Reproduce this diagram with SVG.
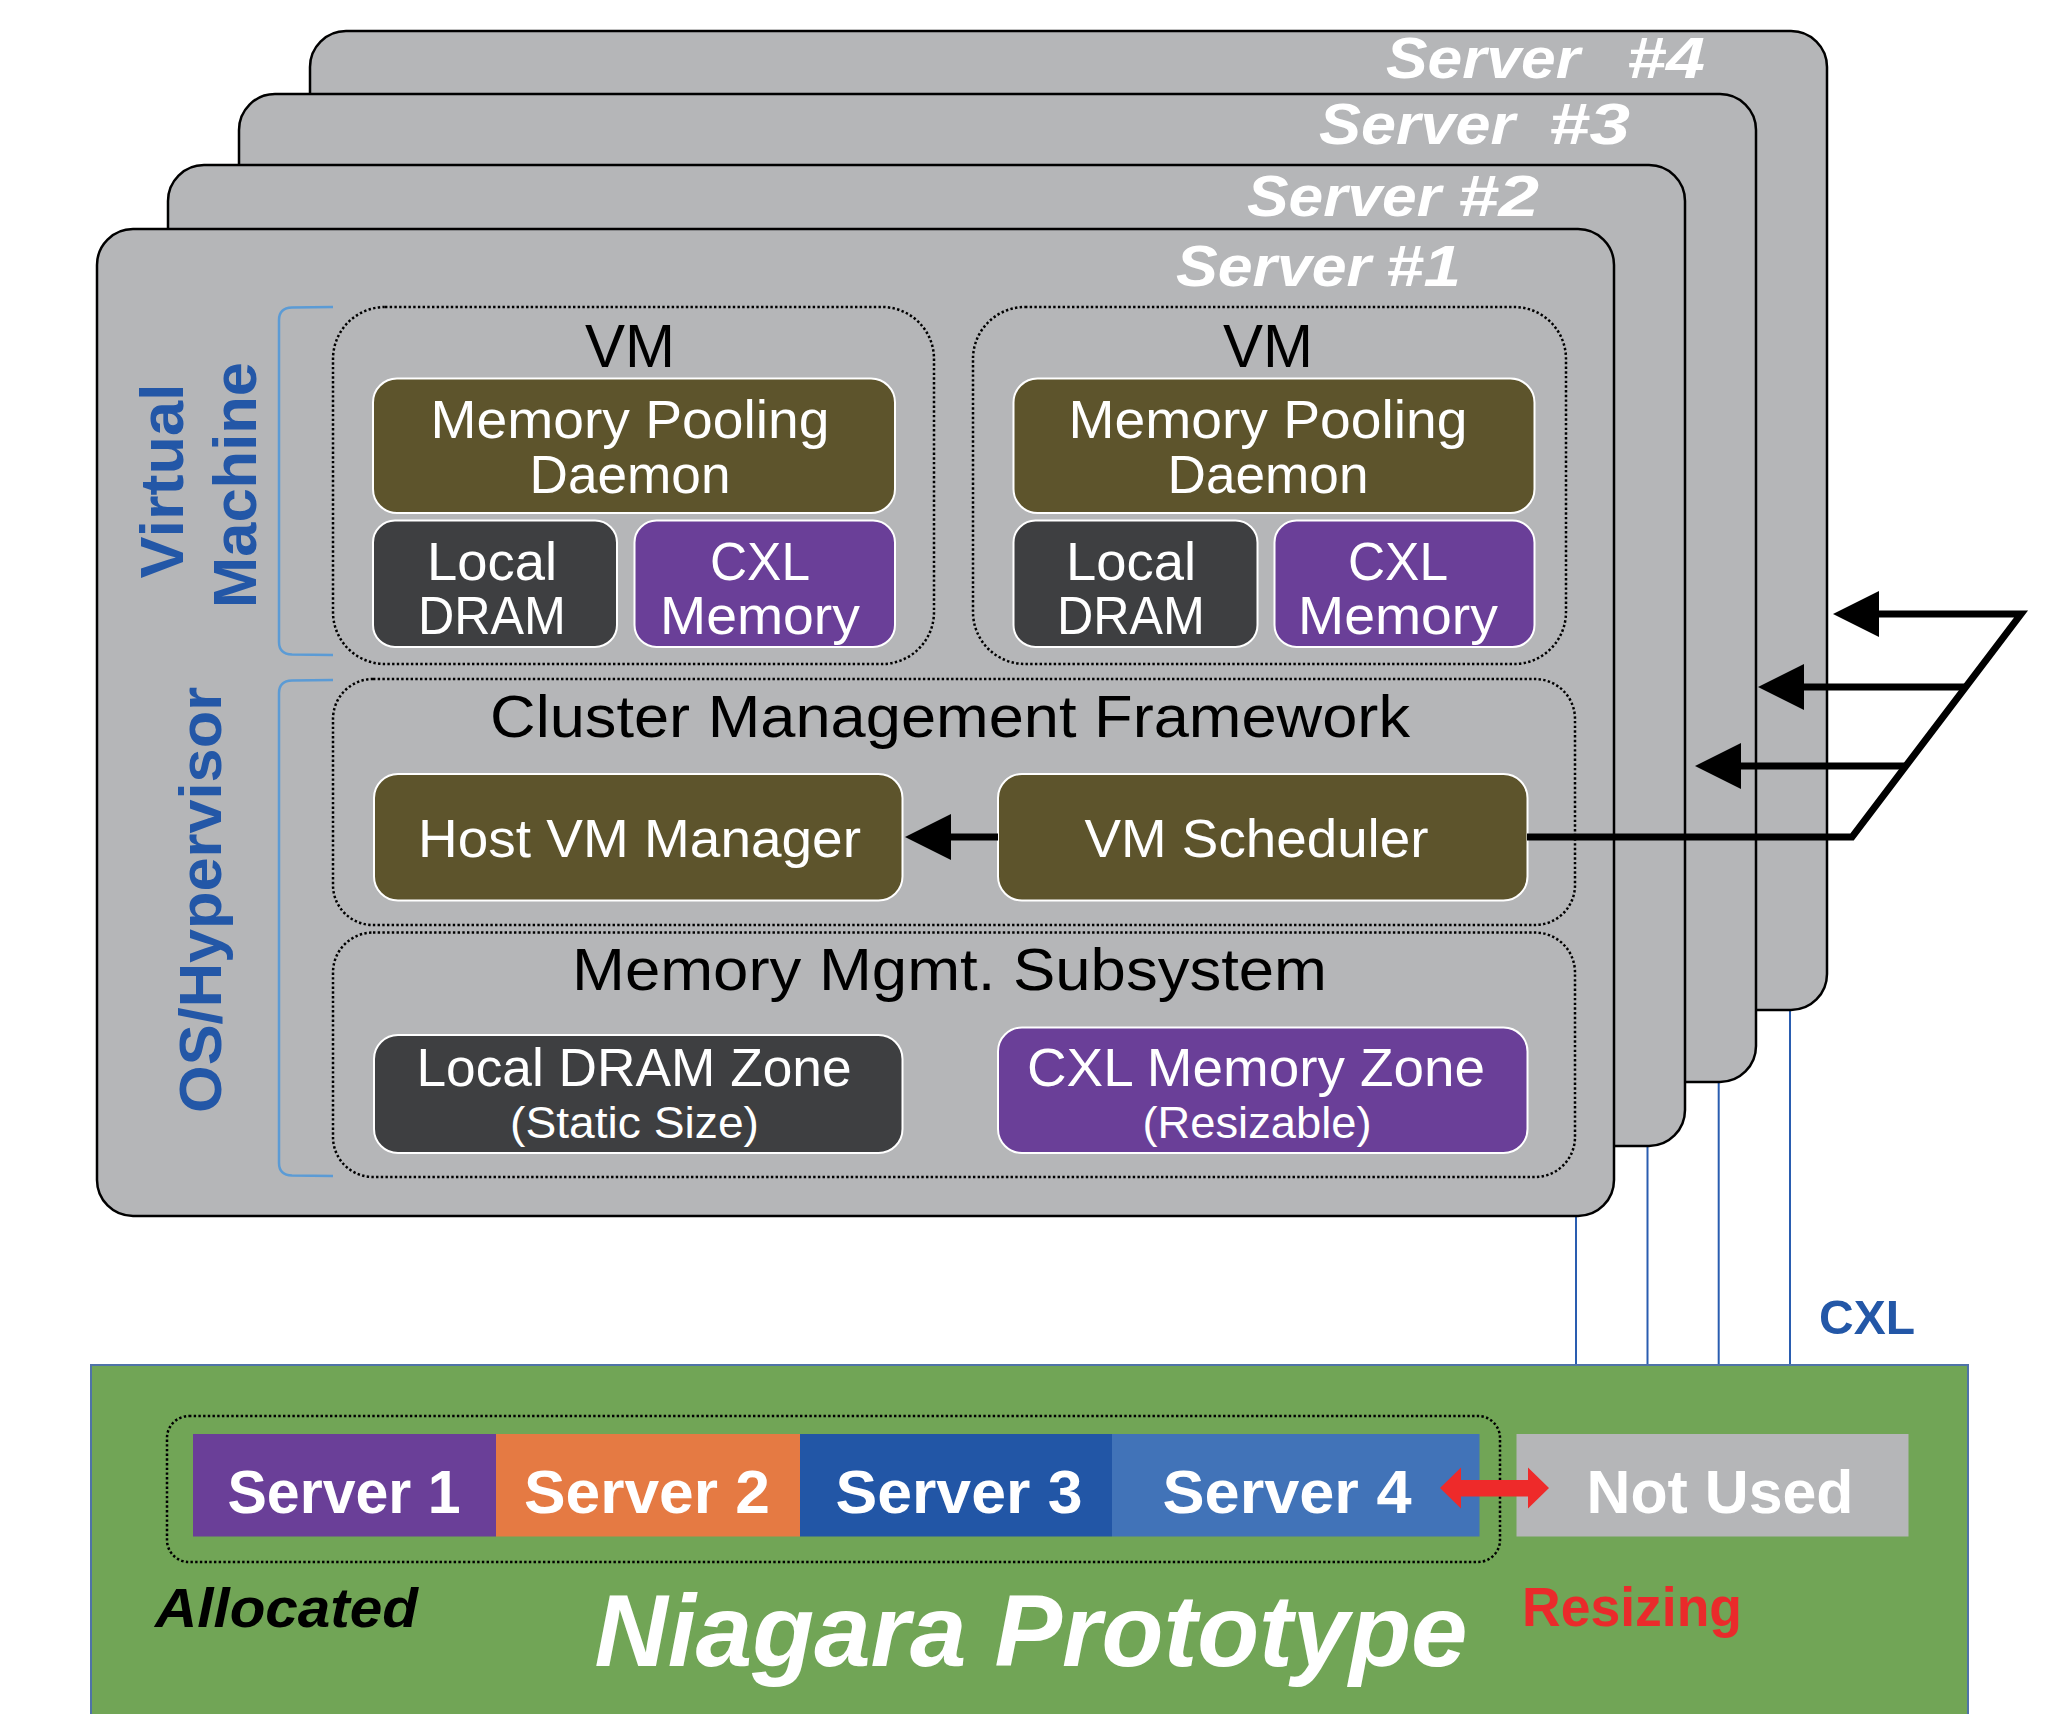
<svg xmlns="http://www.w3.org/2000/svg" width="2063" height="1714" viewBox="0 0 2063 1714">
  <defs>
    <style>
      .frame { fill: #b5b6b8; stroke: #000; stroke-width: 2.5; }
      .dotted { fill: none; stroke: #000; stroke-width: 2.5; stroke-dasharray: 2.4 2.3; }
      .olive { fill: #5d542c; stroke: #fff; stroke-width: 2; }
      .dark { fill: #3e3f41; stroke: #fff; stroke-width: 2; }
      .purple { fill: #6a3f98; stroke: #fff; stroke-width: 2; }
      .lbl { font-family: "Liberation Sans", Arial, sans-serif; fill: #fff; text-anchor: middle; }
      .two { font-size: 53px; }
      .hdr { font-family: "Liberation Sans", Arial, sans-serif; fill: #000; text-anchor: middle; }
      .srv { font-family: "Liberation Sans", Arial, sans-serif; font-weight: bold; font-style: italic; fill: #fff; font-size: 58px; }
      .side { font-family: "Liberation Sans", Arial, sans-serif; font-weight: bold; fill: #2357a7; text-anchor: middle; }
      .brk { fill: none; stroke: #5b9bd5; stroke-width: 2.5; }
      .conn { fill: none; stroke: #000; stroke-width: 7; stroke-linejoin: miter; }
      .cxl { stroke: #2a5db0; stroke-width: 2; }
      .bar { font-family: "Liberation Sans", Arial, sans-serif; font-weight: bold; fill: #fff; text-anchor: middle; font-size: 61px; }
    </style>
    <marker id="head" markerUnits="userSpaceOnUse" viewBox="0 -24 46 48" markerWidth="46" markerHeight="48" refX="0" refY="0" orient="auto">
      <path d="M0,-23 L46,0 L0,23 z" fill="#000"/>
    </marker>
  </defs>

  <rect width="2063" height="1714" fill="#fff"/>

  <!-- CXL links from each server down to the memory pool -->
  <g id="cxl-links">
    <line class="cxl" x1="1576" y1="1215" x2="1576" y2="1366"/>
    <line class="cxl" x1="1647.5" y1="1145" x2="1647.5" y2="1366"/>
    <line class="cxl" x1="1718.7" y1="1081" x2="1718.7" y2="1366"/>
    <line class="cxl" x1="1790" y1="1009" x2="1790" y2="1366"/>
    <text x="1867" y="1334" class="side" font-size="49" textLength="96" lengthAdjust="spacingAndGlyphs">CXL</text>
  </g>

  <!-- stacked server frames -->
  <g id="server-4">
    <rect class="frame" x="310" y="31" width="1517" height="979" rx="36"/>
    <text class="srv" y="78"><tspan x="1386" textLength="194" lengthAdjust="spacingAndGlyphs">Server</tspan><tspan x="1627" textLength="78" lengthAdjust="spacingAndGlyphs">#4</tspan></text>
  </g>
  <g id="server-3">
    <rect class="frame" x="239" y="94" width="1517" height="988" rx="36"/>
    <text class="srv" y="144"><tspan x="1319" textLength="196" lengthAdjust="spacingAndGlyphs">Server</tspan><tspan x="1549" textLength="81" lengthAdjust="spacingAndGlyphs">#3</tspan></text>
  </g>
  <g id="server-2">
    <rect class="frame" x="168" y="165" width="1517" height="981" rx="36"/>
    <text class="srv" y="216"><tspan x="1247" textLength="194" lengthAdjust="spacingAndGlyphs">Server</tspan><tspan x="1458" textLength="81" lengthAdjust="spacingAndGlyphs">#2</tspan></text>
  </g>
  <g id="server-1">
    <rect class="frame" x="97" y="229" width="1517" height="987" rx="36"/>
    <text class="srv" y="286"><tspan x="1176" textLength="195" lengthAdjust="spacingAndGlyphs">Server</tspan><tspan x="1386" textLength="75" lengthAdjust="spacingAndGlyphs">#1</tspan></text>
  </g>

  <!-- layer labels with brackets -->
  <g id="layer-vm">
    <path class="brk" d="M333,307 L292,307.5 Q279,308 279,320 L279,642 Q279,654 292,654.5 L333,655"/>
    <text class="side" font-size="62" transform="translate(183,481) rotate(-90)" textLength="195" lengthAdjust="spacingAndGlyphs">Virtual</text>
    <text class="side" font-size="62" transform="translate(256,485) rotate(-90)" textLength="246" lengthAdjust="spacingAndGlyphs">Machine</text>
  </g>
  <g id="layer-os">
    <path class="brk" d="M333,680 L292,680.5 Q279,681 279,693 L279,1163 Q279,1175 292,1175.5 L333,1176"/>
    <text class="side" font-size="59" transform="translate(221,900) rotate(-90)" textLength="426" lengthAdjust="spacingAndGlyphs">OS/Hypervisor</text>
  </g>

  <!-- virtual machine A -->
  <g id="vm-a">
    <rect class="dotted" x="333" y="307" width="601" height="357" rx="52"/>
    <text class="hdr" x="630" y="367" font-size="62" textLength="90" lengthAdjust="spacingAndGlyphs">VM</text>
  </g>
  <g id="vm-a-daemon">
    <rect class="olive" x="373" y="378.5" width="522" height="134.5" rx="24"/>
    <text class="lbl two" x="630" y="437.5" textLength="399" lengthAdjust="spacingAndGlyphs">Memory Pooling</text>
    <text class="lbl two" x="630" y="492.5" textLength="201" lengthAdjust="spacingAndGlyphs">Daemon</text>
  </g>
  <g id="vm-a-dram">
    <rect class="dark" x="373" y="520.5" width="244" height="126.5" rx="22"/>
    <text class="lbl two" x="492" y="579.5" textLength="130" lengthAdjust="spacingAndGlyphs">Local</text>
    <text class="lbl two" x="492" y="634" textLength="148" lengthAdjust="spacingAndGlyphs">DRAM</text>
  </g>
  <g id="vm-a-cxl">
    <rect class="purple" x="634.5" y="520.5" width="260.5" height="126.5" rx="22"/>
    <text class="lbl two" x="760" y="579.5" textLength="100" lengthAdjust="spacingAndGlyphs">CXL</text>
    <text class="lbl two" x="760" y="634" textLength="200" lengthAdjust="spacingAndGlyphs">Memory</text>
  </g>

  <!-- virtual machine B -->
  <g id="vm-b">
    <rect class="dotted" x="973" y="307" width="593" height="357" rx="52"/>
    <text class="hdr" x="1268" y="367" font-size="62" textLength="90" lengthAdjust="spacingAndGlyphs">VM</text>
  </g>
  <g id="vm-b-daemon">
    <rect class="olive" x="1013.5" y="378.5" width="521" height="134.5" rx="24"/>
    <text class="lbl two" x="1268" y="437.5" textLength="399" lengthAdjust="spacingAndGlyphs">Memory Pooling</text>
    <text class="lbl two" x="1268" y="492.5" textLength="201" lengthAdjust="spacingAndGlyphs">Daemon</text>
  </g>
  <g id="vm-b-dram">
    <rect class="dark" x="1013.5" y="520.5" width="244" height="126.5" rx="22"/>
    <text class="lbl two" x="1131" y="579.5" textLength="130" lengthAdjust="spacingAndGlyphs">Local</text>
    <text class="lbl two" x="1131" y="634" textLength="148" lengthAdjust="spacingAndGlyphs">DRAM</text>
  </g>
  <g id="vm-b-cxl">
    <rect class="purple" x="1274.5" y="520.5" width="260" height="126.5" rx="22"/>
    <text class="lbl two" x="1398" y="579.5" textLength="100" lengthAdjust="spacingAndGlyphs">CXL</text>
    <text class="lbl two" x="1398" y="634" textLength="200" lengthAdjust="spacingAndGlyphs">Memory</text>
  </g>

  <!-- cluster management framework -->
  <g id="cluster-mgmt">
    <rect class="dotted" x="333" y="679" width="1242" height="246" rx="40"/>
    <text class="hdr" x="950" y="737" font-size="60" textLength="920" lengthAdjust="spacingAndGlyphs">Cluster Management Framework</text>
  </g>
  <g id="host-vm-manager">
    <rect class="olive" x="374" y="774" width="528.5" height="126.5" rx="24"/>
    <text class="lbl" x="639.5" y="856.5" font-size="54" textLength="443" lengthAdjust="spacingAndGlyphs">Host VM Manager</text>
  </g>
  <g id="vm-scheduler">
    <rect class="olive" x="998" y="774" width="529.5" height="126.5" rx="24"/>
    <text class="lbl" x="1256.5" y="856.5" font-size="54" textLength="344" lengthAdjust="spacingAndGlyphs">VM Scheduler</text>
  </g>

  <!-- memory management subsystem -->
  <g id="memory-mgmt">
    <rect class="dotted" x="333" y="932.5" width="1242" height="244.5" rx="40"/>
    <text class="hdr" x="949.5" y="990" font-size="59" textLength="755" lengthAdjust="spacingAndGlyphs">Memory Mgmt. Subsystem</text>
  </g>
  <g id="local-dram-zone">
    <rect class="dark" x="374" y="1035" width="528.5" height="118" rx="24"/>
    <text class="lbl" x="634" y="1085.5" font-size="54" textLength="435" lengthAdjust="spacingAndGlyphs">Local DRAM Zone</text>
    <text class="lbl" x="634.5" y="1138" font-size="45" textLength="249" lengthAdjust="spacingAndGlyphs">(Static Size)</text>
  </g>
  <g id="cxl-memory-zone">
    <rect class="purple" x="998" y="1027.5" width="529.5" height="125.5" rx="24"/>
    <text class="lbl" x="1256" y="1085.5" font-size="54" textLength="458" lengthAdjust="spacingAndGlyphs">CXL Memory Zone</text>
    <text class="lbl" x="1257" y="1138" font-size="45" textLength="229" lengthAdjust="spacingAndGlyphs">(Resizable)</text>
  </g>

  <!-- Niagara memory pool -->
  <g id="niagara">
    <rect x="91" y="1365" width="1877" height="400" fill="#71a556" stroke="#4f73a8" stroke-width="2"/>
    <rect class="dotted" x="167" y="1416" width="1333" height="146" rx="22"/>
    <text x="1031" y="1666" font-family="Liberation Sans, Arial, sans-serif" font-weight="bold" font-style="italic" font-size="102" fill="#fff" text-anchor="middle" textLength="873" lengthAdjust="spacingAndGlyphs">Niagara Prototype</text>
    <text x="155" y="1626.5" font-family="Liberation Sans, Arial, sans-serif" font-weight="bold" font-style="italic" font-size="55" fill="#000" textLength="263" lengthAdjust="spacingAndGlyphs">Allocated</text>
    <text x="1522" y="1626" font-family="Liberation Sans, Arial, sans-serif" font-weight="bold" font-size="56" fill="#ea2a2b" textLength="220" lengthAdjust="spacingAndGlyphs">Resizing</text>
  </g>
  <g id="pool-server-1">
    <rect x="193" y="1434" width="303" height="102.5" fill="#6a3f98"/>
    <text class="bar" x="344" y="1512.5" textLength="233" lengthAdjust="spacingAndGlyphs">Server 1</text>
  </g>
  <g id="pool-server-2">
    <rect x="496" y="1434" width="304" height="102.5" fill="#e57a43"/>
    <text class="bar" x="647" y="1512.5" textLength="246" lengthAdjust="spacingAndGlyphs">Server 2</text>
  </g>
  <g id="pool-server-3">
    <rect x="800" y="1434" width="312" height="102.5" fill="#2256a6"/>
    <text class="bar" x="959" y="1512.5" textLength="247" lengthAdjust="spacingAndGlyphs">Server 3</text>
  </g>
  <g id="pool-server-4">
    <rect x="1112" y="1434" width="367.5" height="102.5" fill="#4173b8"/>
    <text class="bar" x="1287" y="1512.5" textLength="249" lengthAdjust="spacingAndGlyphs">Server 4</text>
  </g>
  <g id="pool-unused">
    <rect x="1516.5" y="1434" width="392" height="102.5" fill="#b5b6b8"/>
    <text class="bar" x="1720" y="1512.5" textLength="267" lengthAdjust="spacingAndGlyphs">Not Used</text>
  </g>

  <!-- connectors -->
  <g id="connectors">
    <path class="conn" stroke-width="8" d="M998,837 H951" marker-end="url(#head)"/>
    <path class="conn" d="M1527,837 H1852 L2021,614 H1879" marker-end="url(#head)"/>
    <path class="conn" d="M1965,687 H1804" marker-end="url(#head)"/>
    <path class="conn" d="M1906,766 H1741" marker-end="url(#head)"/>
    <polygon fill="#ee2a2a" points="1440,1488 1461,1467.5 1461,1480 1528,1480 1528,1467.5 1549,1488 1528,1508.5 1528,1496.5 1461,1496.5 1461,1508.5"/>
  </g>
</svg>
